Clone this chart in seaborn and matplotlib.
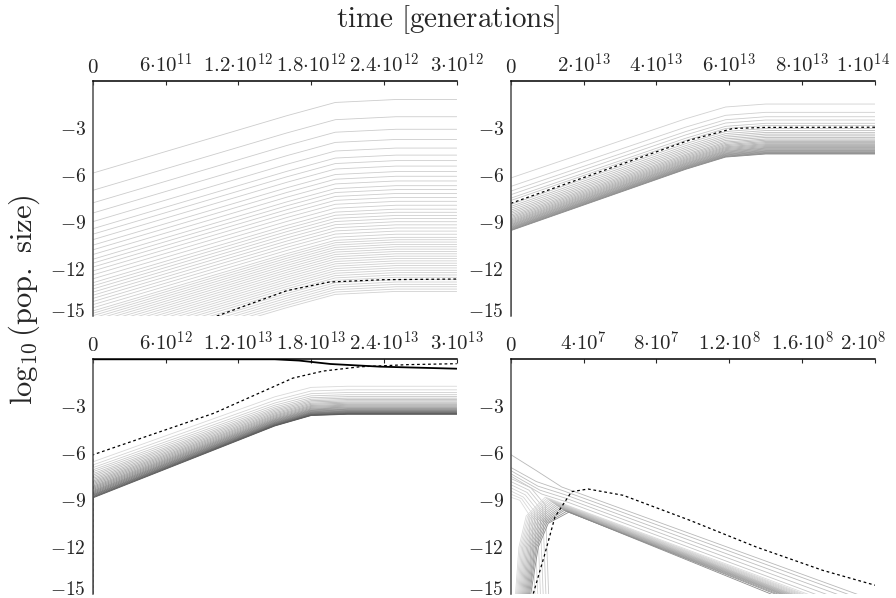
import numpy as np
import pandas as pd
import matplotlib
matplotlib.use('Agg')
import matplotlib.pyplot as plt
import matplotlib.transforms as mtransforms
import seaborn as sns

# ---------------- data ----------------
floor = -16.0  # curves coming up from below the frame at t = 0

# panel A (top left): t in [0, 3e12]
a_tmax = 3e12
a_bend_t = [1.6e12, 2.0e12, 2.5e12]   # where the curves bend over
a_bend_f = [0.78, 0.96, 1.0]          # share of the rise done there
a_start = [-5.9, -7.0, -7.8, -8.45, -9.0, -9.45, -9.8, -10.15, -10.5, -10.8,
           -11.1, -11.4, -11.65, -11.9, -12.15, -12.4, -12.65, -12.9, -13.1, -13.3,
           -13.5, -13.7, -13.9, -14.1, -14.3, -14.5, -14.7, -14.85, -15.0, -15.15,
           -15.3, -15.45, -15.6, -15.75, -15.9, -16.05, -16.2, -16.35, -16.5, -16.65,
           -16.8, -16.95, -17.1, -17.25, -17.4, -17.55, -17.7, -17.85, -18.0, -18.15]
a_plateau = [-1.2, -2.3, -3.1, -3.75, -4.3, -4.75, -5.1, -5.45, -5.8, -6.1,
             -6.4, -6.7, -6.95, -7.2, -7.45, -7.7, -7.95, -8.2, -8.4, -8.6,
             -8.8, -9.0, -9.2, -9.4, -9.6, -9.8, -10.0, -10.15, -10.3, -10.45,
             -10.6, -10.75, -10.9, -11.05, -11.2, -11.35, -11.5, -11.65, -11.8, -11.95,
             -12.1, -12.25, -12.4, -12.55, -12.7, -12.85, -13.0, -13.15, -13.3, -13.45]
a_dash_t = [0, 1.6e12, 1.95e12, 2.4e12, 3e12]
a_dash_y = [-17.9, -13.4, -12.85, -12.7, -12.66]
a_ticks = [0, 6e11, 1.2e12, 1.8e12, 2.4e12, 3e12]
a_labels = ['0', r'6{\cdot}10^{11}', r'1.2{\cdot}10^{12}', r'1.8{\cdot}10^{12}',
            r'2.4{\cdot}10^{12}', r'3{\cdot}10^{12}']

# panel B (top right): t in [0, 1e14]
b_tmax = 1e14
b_bend_t = [4.8e13, 5.9e13, 7.0e13]
b_bend_f = [0.8, 0.96, 1.0]
b_start = [-6.21, -6.75, -7.05, -7.28, -7.50, -7.65, -7.90, -8.03, -8.15, -8.27,
           -8.38, -8.48, -8.58, -8.67, -8.75, -8.83, -8.90, -8.97, -9.03, -9.09,
           -9.15, -9.20, -9.25, -9.30, -9.35, -9.39, -9.43, -9.47, -9.51, -9.54, -9.57]
b_plateau = [-1.49, -2.02, -2.30, -2.51, -2.72, -2.86, -3.05, -3.18, -3.30, -3.41,
             -3.52, -3.62, -3.72, -3.80, -3.88, -3.95, -4.02, -4.08, -4.14, -4.20,
             -4.26, -4.31, -4.36, -4.41, -4.46, -4.50, -4.54, -4.58, -4.62, -4.65, -4.68]
b_dash_t = [0, 4.9e13, 6.1e13, 7.0e13, 1e14]
b_dash_y = [-7.83, -3.8, -3.05, -2.98, -2.97]
b_ticks = [0, 2e13, 4e13, 6e13, 8e13, 1e14]
b_labels = ['0', r'2{\cdot}10^{13}', r'4{\cdot}10^{13}', r'6{\cdot}10^{13}',
            r'8{\cdot}10^{13}', r'1{\cdot}10^{14}']

# panel C (bottom left): t in [0, 3e13]
c_tmax = 3e13
c_bend_t = [1.5e13, 1.8e13, 2.1e13]
c_bend_f = [0.86, 0.985, 1.0]
c_start = [-6.55, -6.75, -6.92, -7.06, -7.18, -7.30, -7.40, -7.50, -7.60, -7.69,
           -7.78, -7.86, -7.94, -8.02, -8.10, -8.17, -8.24, -8.31, -8.38, -8.44,
           -8.50, -8.56, -8.62, -8.67, -8.72, -8.77, -8.81, -8.85]
c_plateau = [-1.72, -1.95, -2.12, -2.26, -2.38, -2.48, -2.57, -2.65, -2.73, -2.80,
             -2.87, -2.93, -2.99, -3.05, -3.10, -3.15, -3.19, -3.23, -3.27, -3.31,
             -3.34, -3.37, -3.40, -3.43, -3.45, -3.47, -3.49, -3.51]
c_dash_t = [0, 0, 1.0e13, 1.65e13, 1.9e13, 2.2e13, 2.6e13, 3e13]
c_dash_y = [floor, -6.1, -3.44, -1.2, -0.75, -0.48, -0.34, -0.28]
c_solid_t = [0, 1.5e13, 1.7e13, 1.96e13, 2.37e13, 3e13]
c_solid_y = [0, 0, -0.08, -0.3, -0.47, -0.6]
c_ticks = [0, 6e12, 1.2e13, 1.8e13, 2.4e13, 3e13]
c_labels = ['0', r'6{\cdot}10^{12}', r'1.2{\cdot}10^{13}', r'1.8{\cdot}10^{13}',
            r'2.4{\cdot}10^{13}', r'3{\cdot}10^{13}']

# panel D (bottom right): t in [0, 2e8]
d_tmax = 2e8
# curves leaving the left axis (first five join the decaying band,
# the rest bend over and drop out below the frame)
d_a_y0 = [-6.08, -6.9, -7.1, -7.3, -7.45,
          -7.6, -7.8, -8.0, -8.2, -8.4, -8.6, -8.8]
d_a_t1 = [1.4e7, 1.4e7, 1.5e7, 1.6e7, 1.7e7,
          1.1e7, 1.0e7, 0.9e7, 0.8e7, 0.7e7, 0.6e7, 0.5e7]
d_a_y1 = [-7.1, -7.8, -8.1, -8.35, -8.6,
          -8.2, -8.35, -8.5, -8.65, -8.8, -8.9, -9.0]
d_a_t2 = [2.8e7, 2.9e7, 3.0e7, 3.1e7, 3.2e7,
          1.9e7, 1.75e7, 1.6e7, 1.45e7, 1.3e7, 1.15e7, 1.0e7]
d_a_y2 = [-8.15, -8.4, -8.65, -8.9, -9.15,
          -9.3, -9.4, -9.5, -9.6, -9.7, -9.8, -9.9]
d_a_t3 = [1.95e8, 1.9e8, 1.84e8, 1.78e8, 1.72e8,
          2.1e7, 1.95e7, 1.8e7, 1.65e7, 1.5e7, 1.35e7, 1.2e7]
d_a_y3 = [-15.2, -15.2, -15.2, -15.2, -15.2,
          -15.5, -15.5, -15.5, -15.5, -15.5, -15.5, -15.5]
# curves rising from below the frame, peaking, then decaying
d_b_rise = [0.20e7, 0.25e7, 0.30e7, 0.35e7, 0.40e7, 0.45e7, 0.50e7, 0.55e7,
            0.60e7, 0.65e7, 0.70e7, 0.75e7, 0.80e7, 0.85e7, 0.90e7, 0.96e7]
d_b_t1 = [0.45e7, 0.52e7, 0.59e7, 0.66e7, 0.73e7, 0.80e7, 0.87e7, 0.94e7,
          1.01e7, 1.08e7, 1.15e7, 1.22e7, 1.29e7, 1.36e7, 1.43e7, 1.51e7]
d_b_t2 = [0.85e7, 0.93e7, 1.01e7, 1.09e7, 1.17e7, 1.25e7, 1.33e7, 1.41e7,
          1.49e7, 1.57e7, 1.65e7, 1.73e7, 1.81e7, 1.89e7, 1.97e7, 2.06e7]
d_b_y2 = [-10.0, -10.03, -10.06, -10.1, -10.13, -10.16, -10.2, -10.23,
          -10.26, -10.3, -10.33, -10.36, -10.39, -10.42, -10.45, -10.47]
d_b_peak_t = [1.9e7, 1.98e7, 2.06e7, 2.14e7, 2.22e7, 2.3e7, 2.38e7, 2.46e7,
              2.54e7, 2.62e7, 2.7e7, 2.78e7, 2.86e7, 2.94e7, 3.07e7, 3.2e7]
d_b_peak_y = [-8.8, -8.87, -8.94, -9.0, -9.07, -9.13, -9.2, -9.27,
              -9.33, -9.4, -9.47, -9.53, -9.6, -9.65, -9.7, -9.75]
d_b_end = [1.68e8, 1.66e8, 1.645e8, 1.63e8, 1.615e8, 1.6e8, 1.59e8, 1.58e8,
           1.57e8, 1.56e8, 1.55e8, 1.54e8, 1.53e8, 1.515e8, 1.5e8, 1.475e8]
d_dash_t = [1.1e7, 1.24e7, 1.88e7, 2.43e7, 3.34e7, 4.25e7, 6.17e7, 9.82e7, 1.348e8,
            1.713e8, 2e8]
d_dash_y = [-16, -14.96, -12.4, -10.06, -8.45, -8.28, -8.68, -10.27, -11.98, -13.47,
            -14.42]
d_ticks = [0, 4e7, 8e7, 1.2e8, 1.6e8, 2e8]
d_labels = ['0', r'4{\cdot}10^{7}', r'8{\cdot}10^{7}', r'1.2{\cdot}10^{8}',
            r'1.6{\cdot}10^{8}', r'2{\cdot}10^{8}']

y_ticks = [-15, -12, -9, -6, -3]


def frame(ts, ys):
    parts = [pd.DataFrame({'t': t, 'logN': y, 'line': i})
             for i, (t, y) in enumerate(zip(ts, ys))]
    return pd.concat(parts, ignore_index=True)


def rise_curves(start, plateau, bend_t, bend_f, tmax, from_floor=False):
    # each curve: start value at t=0, bends over onto its plateau
    ts, ys = [], []
    for s, p in zip(start, plateau):
        t = [0] + list(bend_t) + [tmax]
        y = [s] + [s + f * (p - s) for f in bend_f] + [p]
        if from_floor:
            t, y = [0] + t, [floor] + y
        ts.append(t)
        ys.append(y)
    return frame(ts, ys)


def grays(n, lo, hi):
    return {i: str(round(g, 3)) for i, g in enumerate(np.linspace(lo, hi, n))}


def draw(ax, df, colors, lw=0.6):
    sns.lineplot(data=df, x='t', y='logN', hue='line', units='line',
                 estimator=None, sort=False, palette=colors, lw=lw,
                 legend=False, ax=ax)


def dashed(ax, t, y):
    sns.lineplot(x=t, y=y, color='k', lw=0.9, ls=(0, (2.2, 2.2)),
                 sort=False, estimator=None, ax=ax)


def style(ax, tmax, ticks, labels):
    ax.set_xlim(0, tmax)
    ax.set_ylim(-15, 0)
    ax.set_xlabel('')
    ax.set_ylabel('')
    ax.xaxis.tick_top()
    ax.set_xticks(ticks)
    ax.set_xticklabels(['$' + s + '$' for s in labels], fontsize=15)
    ax.set_yticks(y_ticks)
    ax.set_yticklabels(['$%d$' % v for v in y_ticks], fontsize=14)
    ax.tick_params(axis='x', direction='in', length=3, width=0.8, pad=3)
    ax.tick_params(axis='y', direction='in', length=3, width=0.8, pad=5)
    for s in ['right', 'bottom']:
        ax.spines[s].set_visible(False)
    ax.spines['top'].set_linewidth(1.1)
    ax.spines['top'].set_color('k')
    ax.spines['left'].set_linewidth(1.1)
    ax.spines['left'].set_color('0.3')


sns.set_style('white')
plt.rcParams['mathtext.fontset'] = 'cm'
plt.rcParams['font.family'] = ['DejaVu Serif']

fig = plt.figure(figsize=(8.96, 5.98), dpi=100)
W, H = 896, 598
axA = fig.add_axes([92.7 / W, 1 - 315.7 / H, 364 / W, 235 / H])
axB = fig.add_axes([510.7 / W, 1 - 315.7 / H, 364.3 / W, 235 / H])
axC = fig.add_axes([92.7 / W, 1 - 594.3 / H, 364 / W, 235 / H])
axD = fig.add_axes([510.7 / W, 1 - 594.3 / H, 364.3 / W, 235 / H])

# panel A
dfA = rise_curves(a_start, a_plateau, a_bend_t, a_bend_f, a_tmax)
draw(axA, dfA, grays(len(a_start), 0.8, 0.82))
dashed(axA, a_dash_t, a_dash_y)
style(axA, a_tmax, a_ticks, a_labels)

# panel B
dfB = rise_curves(b_start, b_plateau, b_bend_t, b_bend_f, b_tmax, from_floor=True)
draw(axB, dfB, grays(len(b_start), 0.82, 0.55))
dashed(axB, b_dash_t, b_dash_y)
style(axB, b_tmax, b_ticks, b_labels)

# panel C
dfC = rise_curves(c_start, c_plateau, c_bend_t, c_bend_f, c_tmax, from_floor=True)
draw(axC, dfC, grays(len(c_start), 0.85, 0.35))
dashed(axC, c_dash_t, c_dash_y)
sns.lineplot(x=c_solid_t, y=c_solid_y, color='k', lw=1.3, sort=False,
             estimator=None, ax=axC)
style(axC, c_tmax, c_ticks, c_labels)

# panel D
dfDa = frame([[0, a, b, c] for a, b, c in zip(d_a_t1, d_a_t2, d_a_t3)],
             [list(v) for v in zip(d_a_y0, d_a_y1, d_a_y2, d_a_y3)])
draw(axD, dfDa, grays(len(d_a_y0), 0.72, 0.86))
dfDb = frame([list(v) for v in zip(d_b_rise, d_b_t1, d_b_t2, d_b_peak_t, d_b_end)],
             [[floor, -12.0, a, b, -15.2] for a, b in zip(d_b_y2, d_b_peak_y)])
draw(axD, dfDb, grays(len(d_b_rise), 0.86, 0.55))
dashed(axD, d_dash_t, d_dash_y)
style(axD, d_tmax, d_ticks, d_labels)

# keep the last tick label of the right-hand panels inside the figure,
# and lift the -15 labels inside the frame as in the original
left = mtransforms.ScaledTranslation(-12 / 100, 0, fig.dpi_scale_trans)
up = mtransforms.ScaledTranslation(0, 6 / 100, fig.dpi_scale_trans)
for ax in (axB, axD):
    lab = ax.get_xticklabels()[-1]
    lab.set_transform(lab.get_transform() + left)
for ax in (axA, axB, axC, axD):
    lab = ax.get_yticklabels()[0]
    lab.set_transform(lab.get_transform() + up)

fig.text(0.5, 1 - 20 / H, r'$\mathrm{time\ [generations]}$', ha='center',
         va='center', fontsize=21)
fig.text(24 / W, 1 - 300 / H, r'$\log_{10}(\mathrm{pop.\ size})$', ha='center',
         va='center', rotation=90, fontsize=22)

fig.savefig('out.png', dpi=100)
